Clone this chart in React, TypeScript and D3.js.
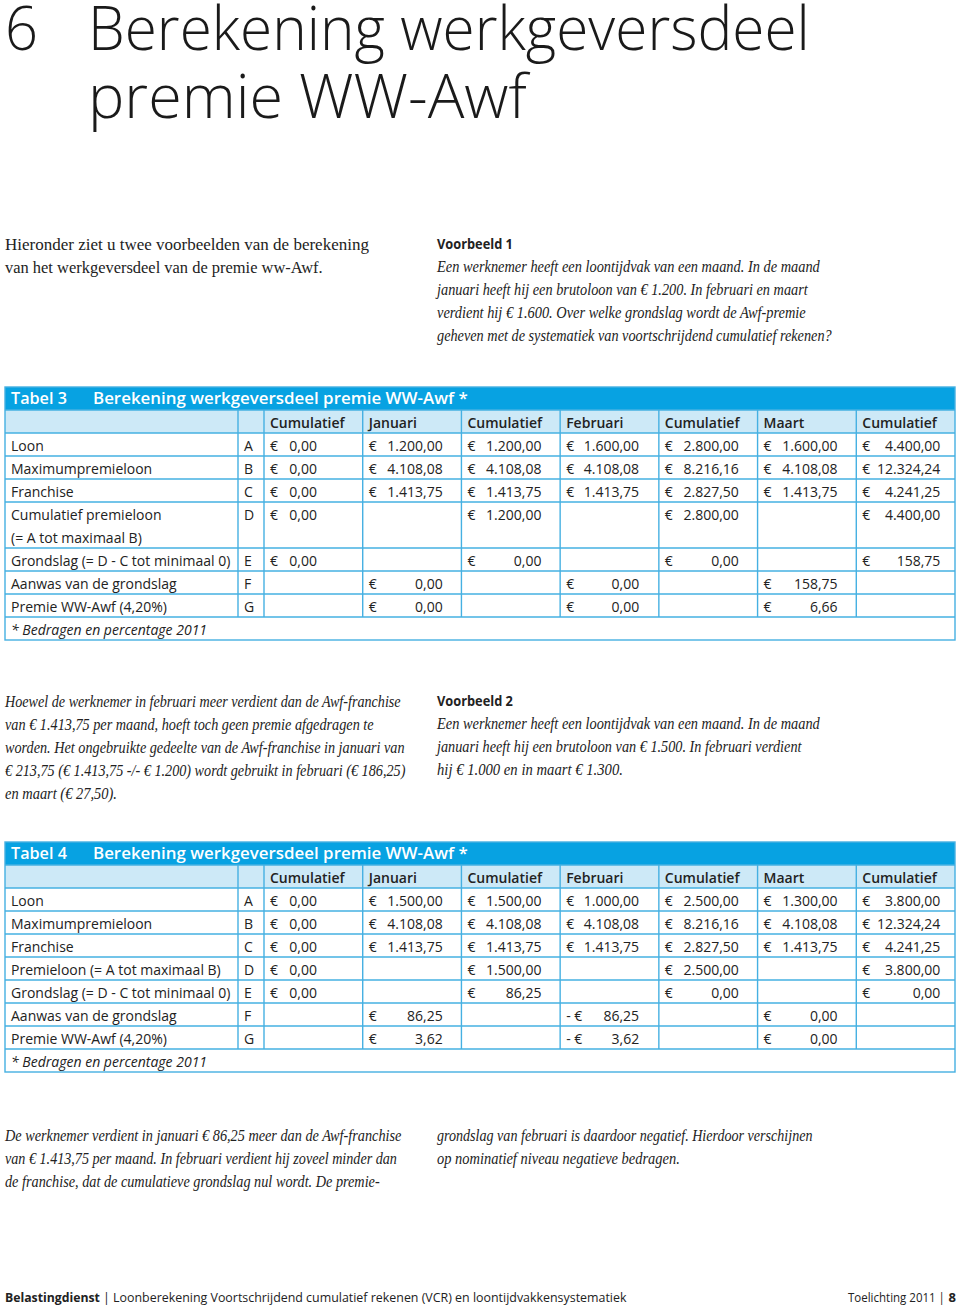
import React, { Component } from 'react'
import * as d3 from 'd3'

// ---- data ----
const columns = ['Cumulatief', 'Januari', 'Cumulatief', 'Februari', 'Cumulatief', 'Maart', 'Cumulatief']
const letters = ['A', 'B', 'C', 'D', 'E', 'F', 'G']

const labels3 = [
  ['Loon'],
  ['Maximumpremieloon'],
  ['Franchise'],
  ['Cumulatief premieloon', '(= A tot maximaal B)'],
  ['Grondslag (= D - C tot minimaal 0)'],
  ['Aanwas van de grondslag'],
  ['Premie WW-Awf (4,20%)'],
]
const values3 = [
  [0, 1200, 1200, 1600, 2800, 1600, 4400],
  [0, 4108.08, 4108.08, 4108.08, 8216.16, 4108.08, 12324.24],
  [0, 1413.75, 1413.75, 1413.75, 2827.5, 1413.75, 4241.25],
  [0, null, 1200, null, 2800, null, 4400],
  [0, null, 0, null, 0, null, 158.75],
  [null, 0, null, 0, null, 158.75, null],
  [null, 0, null, 0, null, 6.66, null],
]

const labels4 = [
  ['Loon'],
  ['Maximumpremieloon'],
  ['Franchise'],
  ['Premieloon (= A tot maximaal B)'],
  ['Grondslag (= D - C tot minimaal 0)'],
  ['Aanwas van de grondslag'],
  ['Premie WW-Awf (4,20%)'],
]
const values4 = [
  [0, 1500, 1500, 1000, 2500, 1300, 3800],
  [0, 4108.08, 4108.08, 4108.08, 8216.16, 4108.08, 12324.24],
  [0, 1413.75, 1413.75, 1413.75, 2827.5, 1413.75, 4241.25],
  [0, null, 1500, null, 2500, null, 3800],
  [0, null, 86.25, null, 0, null, 0],
  [null, 86.25, null, -86.25, null, 0, null],
  [null, 3.62, null, -3.62, null, 0, null],
]

const footnote = '* Bedragen en percentage 2011'

const intro = [
  'Hieronder ziet u twee voorbeelden van de berekening',
  'van het werkgeversdeel van de premie ww-Awf.',
]
const example1 = [
  'Een werknemer heeft een loontijdvak van een maand. In de maand',
  'januari heeft hij een brutoloon van € 1.200. In februari en maart',
  'verdient hij € 1.600. Over welke grondslag wordt de Awf-premie',
  'geheven met de systematiek van voortschrijdend cumulatief rekenen?',
]
const note1 = [
  'Hoewel de werknemer in februari meer verdient dan de Awf-franchise',
  'van € 1.413,75 per maand, hoeft toch geen premie afgedragen te',
  'worden. Het ongebruikte gedeelte van de Awf-franchise in januari van',
  '€ 213,75 (€ 1.413,75 -/- € 1.200) wordt gebruikt in februari (€ 186,25)',
  'en maart (€ 27,50).',
]
const example2 = [
  'Een werknemer heeft een loontijdvak van een maand. In de maand',
  'januari heeft hij een brutoloon van € 1.500. In februari verdient',
  'hij € 1.000 en in maart € 1.300.',
]
const note2Left = [
  'De werknemer verdient in januari € 86,25 meer dan de Awf-franchise',
  'van € 1.413,75 per maand. In februari verdient hij zoveel minder dan',
  'de franchise, dat de cumulatieve grondslag nul wordt. De premie-',
]
const note2Right = [
  'grondslag van februari is daardoor negatief. Hierdoor verschijnen',
  'op nominatief niveau negatieve bedragen.',
]

// ---- layout / style ----
const BLUE = '#07a2e2'
const LIGHT = '#cde9f7'
const LINE = '#45b0e2'
const INK = '#222'
const SANS = '"Open Sans", "Noto Sans", sans-serif'
const SERIF = '"Liberation Serif", "DejaVu Serif", serif'
const ROW = 23

const nl = d3.formatLocale({ decimal: ',', thousands: '.', grouping: [3], currency: ['€', ''] })
const money = nl.format(',.2f')

// squeeze a text node horizontally so it spans exactly to `x2`
function fitTo(sel: any, x: number, y: number, x2: number) {
  const node = sel.node()
  const w = node.getComputedTextLength()
  const k = w > 0 ? (x2 - x) / w : 1
  sel.attr('x', 0).attr('y', 0).attr('transform', `translate(${x},${y}) scale(${k},1)`)
  return sel
}

class App extends Component {
  svg: SVGSVGElement | null = null

  render() {
    return (
      <div style={{ position: 'absolute', left: 0, top: 0 }}>
        <svg ref={(r) => (this.svg = r)} width={960} height={1307} style={{ display: 'block', background: '#fff' }} />
      </div>
    )
  }

  componentDidMount() {
    this.plot()
  }

  paragraph(svg: any, lines: string[], x: number, y0: number, widths: number[], opts: any) {
    const g = svg.append('g')
    lines.forEach((d, i) => {
      const t = g.append('text')
        .attr('font-family', opts.family)
        .attr('font-style', opts.italic ? 'italic' : 'normal')
        .attr('font-size', opts.size)
        .attr('fill', INK)
        .text(d)
      fitTo(t, x, y0 + i * ROW, widths[i])
    })
  }

  table(svg: any, top: number, num: number, labels: string[][], values: (number | null)[][]) {
    const g = svg.append('g')
    const left = 5, right = 955, labelEnd = 238, letterEnd = 264

    const x = d3.scaleLinear().domain([0, columns.length]).range([letterEnd, right])
    const spans = labels.map((l) => l.length)
    const starts = [0, ...Array.from(d3.cumsum(spans))]
    const bodyTop = top + 2 * ROW
    const y = d3.scaleLinear().domain([0, d3.sum(spans)]).range([bodyTop, bodyTop + d3.sum(spans) * ROW])
    const bodyBottom = y(d3.sum(spans))
    const bottom = bodyBottom + ROW

    // title bar and column header
    g.append('rect').attr('x', left).attr('y', top).attr('width', right - left).attr('height', ROW).attr('fill', BLUE)
    g.append('rect').attr('x', left).attr('y', top + ROW).attr('width', right - left).attr('height', ROW).attr('fill', LIGHT)

    fitTo(g.append('text').attr('fill', '#fff')
      .attr('font-family', SANS).attr('font-weight', 600).attr('font-size', 17)
      .text('Tabel ' + num), 11, top + 17, 67)
    fitTo(g.append('text').attr('fill', '#fff')
      .attr('font-family', SANS).attr('font-weight', 600).attr('font-size', 17)
      .text('Berekening werkgeversdeel premie WW-Awf *'), 93, top + 17, 468)

    g.selectAll('.colhead')
      .data(columns)
      .enter()
      .append('text')
      .attr('class', 'colhead')
      .attr('x', (d: string, i: number) => x(i) + 6)
      .attr('y', top + ROW + 17.5)
      .attr('font-family', SANS).attr('font-weight', 600).attr('font-size', 14)
      .attr('fill', INK)
      .text((d: string) => d)

    // horizontal lines
    const hLines = [top + ROW, ...starts.map((s) => y(s))]
    g.selectAll('.hl')
      .data(hLines)
      .enter()
      .append('line')
      .attr('x1', left).attr('x2', right)
      .attr('y1', (d: number) => d).attr('y2', (d: number) => d)
      .attr('stroke', LINE).attr('stroke-width', 1.4)

    // vertical lines
    const vEdges = [labelEnd, ...d3.range(columns.length).map((i) => x(i))]
    g.selectAll('.vl')
      .data(vEdges)
      .enter()
      .append('line')
      .attr('x1', (d: number) => d).attr('x2', (d: number) => d)
      .attr('y1', top + ROW).attr('y2', bodyBottom)
      .attr('stroke', LINE).attr('stroke-width', 1.4)

    // outer border
    g.append('rect').attr('x', left).attr('y', top).attr('width', right - left).attr('height', bottom - top)
      .attr('fill', 'none').attr('stroke', LINE).attr('stroke-width', 1.4)

    // row labels and letters
    labels.forEach((lines, r) => {
      const ry = y(starts[r])
      lines.forEach((t, k) => {
        g.append('text').attr('x', 11).attr('y', ry + 17.5 + k * ROW)
          .attr('font-family', SANS).attr('font-size', 14).attr('fill', INK).text(t)
      })
      g.append('text').attr('x', labelEnd + 6).attr('y', ry + 17.5)
        .attr('font-family', SANS).attr('font-size', 14).attr('fill', INK).text(letters[r])
    })

    // values
    const valueRight = [53, 80, 80, 79, 80, 80, 84]
    values.forEach((row, r) => {
      const ry = y(starts[r]) + 17.5
      row.forEach((v, c) => {
        if (v == null) return
        const cx = x(c)
        g.append('text').attr('x', cx + 6).attr('y', ry)
          .attr('font-family', SANS).attr('font-size', 14).attr('fill', INK)
          .text(v < 0 ? '- €' : '€')
        g.append('text').attr('x', cx + valueRight[c]).attr('y', ry)
          .attr('text-anchor', 'end')
          .attr('font-family', SANS).attr('font-size', 14).attr('fill', INK)
          .text(money(Math.abs(v)))
      })
    })

    g.append('text').attr('x', 11).attr('y', bodyBottom + 17.5)
      .attr('font-family', SANS).attr('font-style', 'italic').attr('font-size', 14).attr('fill', INK)
      .text(footnote)
  }

  plot() {
    const svg = d3.select(this.svg)

    // heading
    const head = svg.append('g').attr('font-family', SANS).attr('font-weight', 300).attr('font-size', 60).attr('fill', '#1a1a1a')
    fitTo(head.append('text').text('6'), 5, 50, 38)
    fitTo(head.append('text').text('Berekening werkgeversdeel'), 88, 50, 810)
    fitTo(head.append('text').text('premie WW-Awf'), 88, 118, 527)

    this.paragraph(svg, intro, 5, 250, [369, 323], { family: SERIF, size: 17.5 })

    fitTo(svg.append('text').attr('font-family', SANS).attr('font-weight', 700)
      .attr('font-size', 14).attr('fill', INK).text('Voorbeeld 1'), 437, 249, 513)
    this.paragraph(svg, example1, 437, 272, [820, 808, 806, 832], { family: SERIF, size: 16.5, italic: true })

    this.table(svg, 387, 3, labels3, values3)

    this.paragraph(svg, note1, 5, 707, [401, 374, 405, 406, 117], { family: SERIF, size: 16.5, italic: true })
    fitTo(svg.append('text').attr('font-family', SANS).attr('font-weight', 700)
      .attr('font-size', 14).attr('fill', INK).text('Voorbeeld 2'), 437, 706, 513)
    this.paragraph(svg, example2, 437, 729, [820, 802, 623], { family: SERIF, size: 16.5, italic: true })

    this.table(svg, 842, 4, labels4, values4)

    this.paragraph(svg, note2Left, 5, 1141, [402, 397, 380], { family: SERIF, size: 16.5, italic: true })
    this.paragraph(svg, note2Right, 437, 1141, [813, 680], { family: SERIF, size: 16.5, italic: true })

    // footer
    fitTo(svg.append('text').attr('font-family', SANS).attr('font-weight', 700).attr('font-size', 13)
      .attr('fill', INK).text('Belastingdienst'), 5, 1302, 100)
    fitTo(svg.append('text').attr('font-family', SANS).attr('font-size', 13)
      .attr('fill', INK).text('| Loonberekening Voortschrijdend cumulatief rekenen (VCR) en loontijdvakkensystematiek'), 103, 1302, 627)
    fitTo(svg.append('text').attr('font-family', SANS).attr('font-size', 13)
      .attr('fill', INK).text('Toelichting 2011 |'), 848, 1302, 945)
    svg.append('text').attr('x', 956).attr('y', 1302).attr('text-anchor', 'end').attr('font-family', SANS)
      .attr('font-weight', 700).attr('font-size', 13).attr('fill', INK).text('8')
  }
}

export default App
